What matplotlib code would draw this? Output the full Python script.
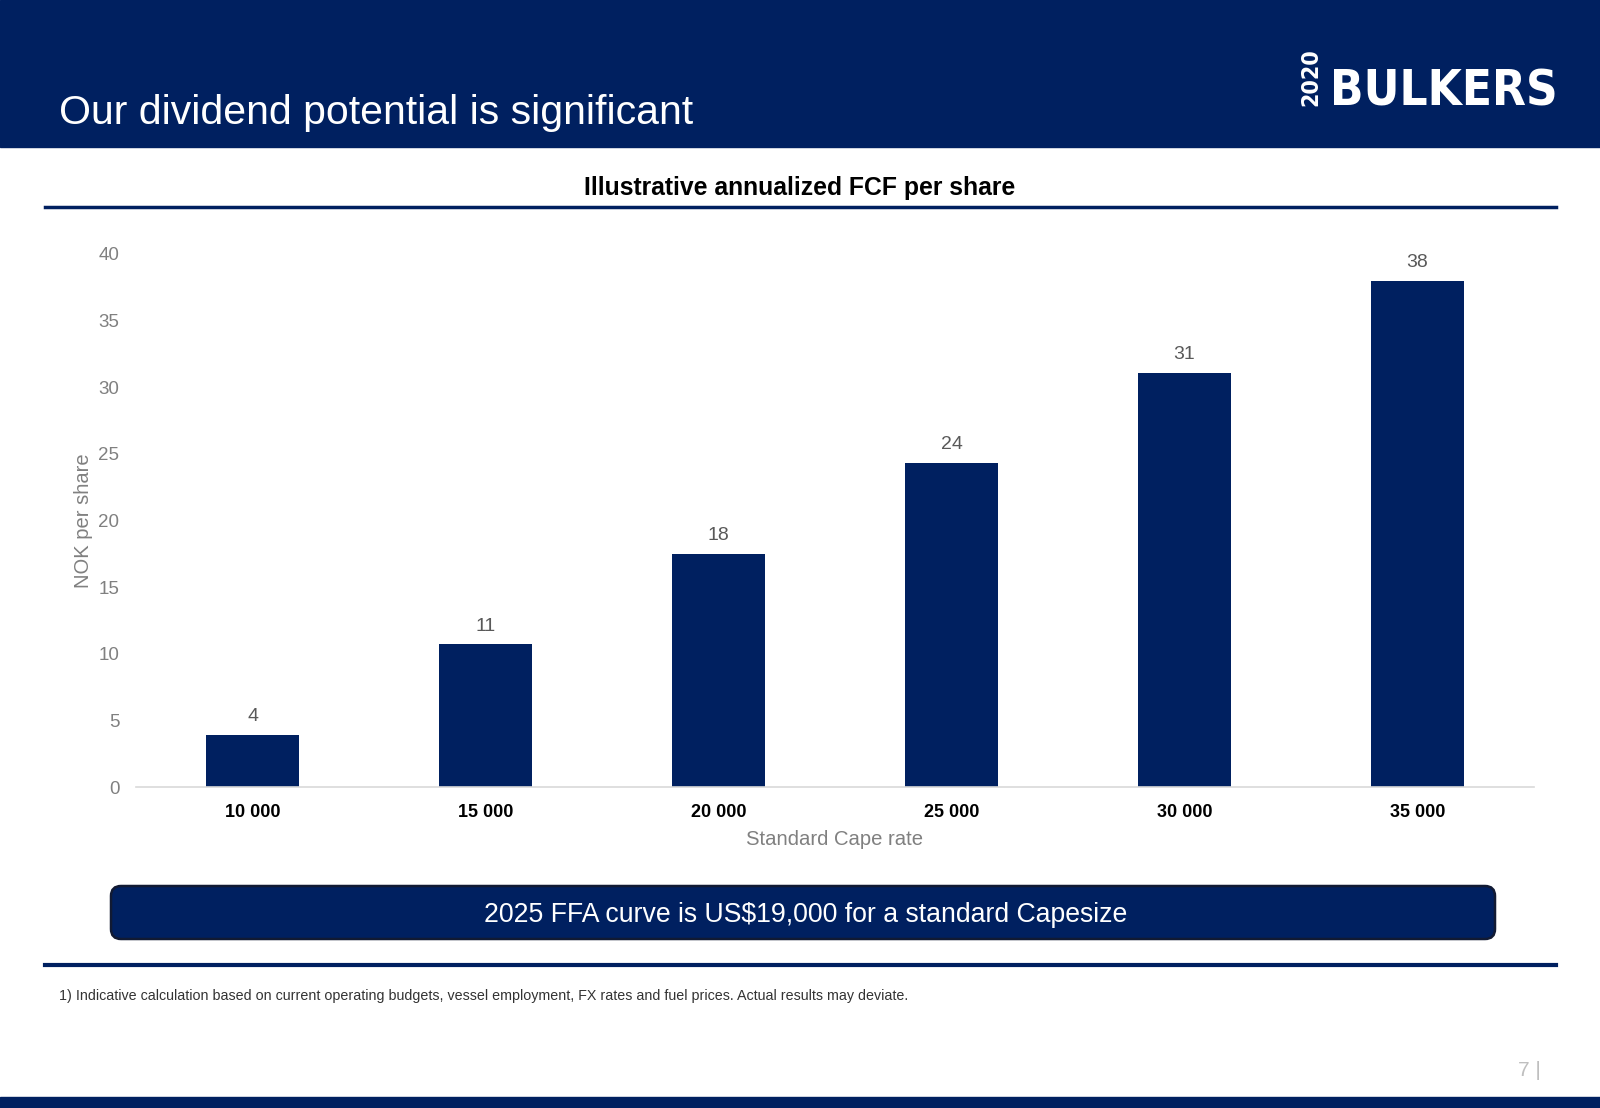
import matplotlib
matplotlib.use("Agg")
import matplotlib.pyplot as plt
from matplotlib import font_manager
from matplotlib.patches import Rectangle, FancyBboxPatch
from matplotlib.lines import Line2D

plt.rcParams['font.family'] = ['Liberation Sans', 'DejaVu Sans']

# --- data
cape_rates = ['10 000', '15 000', '20 000', '25 000', '30 000', '35 000']
fcf_per_share = [3.9, 10.7, 17.5, 24.3, 31.1, 38.0]
bar_labels = ['4', '11', '18', '24', '31', '38']
y_ticks = [0, 5, 10, 15, 20, 25, 30, 35, 40]

navy = '#002060'
grey = '#808080'

# pick a condensed bold Latin face for the logo if one is installed
logo_font = None
for f in font_manager.fontManager.ttflist:
    if 'CJK' in f.name:
        continue
    narrow = ('Condensed' in f.name or 'Narrow' in f.name
              or f.stretch in ('condensed', 'semi-condensed', 'extra-condensed'))
    if narrow and f.weight in ('bold', 700, 'heavy', 800, 900):
        logo_font = font_manager.FontProperties(fname=f.fname)
        break
if logo_font is None:
    logo_font = font_manager.FontProperties(family='Liberation Sans', weight='bold')

# --- figure
W, H = 1600, 1108
fig = plt.figure(figsize=(W / 100, H / 100), dpi=100)
renderer = fig.canvas.get_renderer()

# header band + bottom band
fig.patches.append(Rectangle((0, 1 - 147 / H), 1, 147 / H, transform=fig.transFigure,
                             color=navy, zorder=0))
fig.patches.append(Rectangle((0, 0), 1, 11 / H, transform=fig.transFigure,
                             color=navy, zorder=0))

fig.text(59 / W, 1 - 124 / H, 'Our dividend potential is significant', color='white',
         fontsize=29.5, va='baseline', ha='left')

# logo, each word fitted into its box in the reference
tb = fig.text(1330 / W, 1 - 106 / H, 'BULKERS', fontproperties=logo_font.copy(),
              color='white', ha='left', va='baseline')
tb.set_fontsize(58)
w = tb.get_window_extent(renderer).width
tb.set_fontsize(min(58, 58 * 228 / w))

t20 = fig.text(1311 / W, 1 - 77 / H, '2020', fontproperties=logo_font.copy(), color='white',
               ha='center', va='center', rotation=90)
t20.set_fontsize(26)
span = t20.get_window_extent(renderer).height
t20.set_fontsize(min(26, 26 * 58 / span))

# chart title and rules
fig.text(0.5, 1 - 188 / H, 'Illustrative annualized FCF per share', fontsize=17.8,
         fontweight='bold', ha='center', va='center', color='black')
fig.lines.append(Line2D([45 / W, 1556 / W], [1 - 207 / H] * 2, transform=fig.transFigure,
                        color=navy, lw=2.5))
fig.lines.append(Line2D([45 / W, 1556 / W], [1 - 965 / H] * 2, transform=fig.transFigure,
                        color=navy, lw=3))

# --- chart
ax = fig.add_axes([136 / W, (H - 787) / H, 1398 / W, 533 / H])
x = range(len(cape_rates))
bars = ax.bar(x, fcf_per_share, width=0.4, color=navy, zorder=2)
ax.bar_label(bars, labels=bar_labels, padding=7, fontsize=14, color='#595959')

ax.set_xlim(-0.5, len(cape_rates) - 0.5)
ax.set_ylim(0, 40)
ax.set_yticks(y_ticks)
ax.set_xticks(list(x))
ax.set_xticklabels(cape_rates, fontsize=13, fontweight='bold', color='black')
ax.tick_params(axis='y', length=0, pad=12, labelsize=13.5, labelcolor=grey)
ax.tick_params(axis='x', length=0, pad=12.5)
for s in ['top', 'right', 'left']:
    ax.spines[s].set_visible(False)
ax.spines['bottom'].set_color('#d9d9d9')
ax.spines['bottom'].set_linewidth(1.2)

ax.set_xlabel('Standard Cape rate', fontsize=14.6, color=grey)
ax.xaxis.set_label_coords(0.5, -0.081)
ax.set_ylabel('NOK per share', fontsize=14.5, color=grey)
ax.yaxis.set_label_coords(-0.031, 0.5)

# --- callout box
box = FancyBboxPatch((1.11, 1.69), 13.84, 0.53, boxstyle='round,pad=0,rounding_size=0.1',
                     transform=fig.dpi_scale_trans, facecolor=navy, edgecolor='#111a33',
                     lw=1.8)
fig.patches.append(box)
fig.text(8.06 / 16, 1.93 / 11.08, '2025 FFA curve is US$19,000 for a standard Capesize',
         color='white', fontsize=19.2, ha='center', va='center')

# footnote + page number
fig.text(59 / W, 1 - 996 / H,
         '1) Indicative calculation based on current operating budgets, vessel employment, '
         'FX rates and fuel prices. Actual results may deviate.',
         fontsize=10.3, color='#333333', ha='left', va='center')
fig.text(1541 / W, 1 - 1070 / H, '7 |', fontsize=15, color='#bfbfbf', ha='right',
         va='center')

fig.savefig('out.png', dpi=100)
